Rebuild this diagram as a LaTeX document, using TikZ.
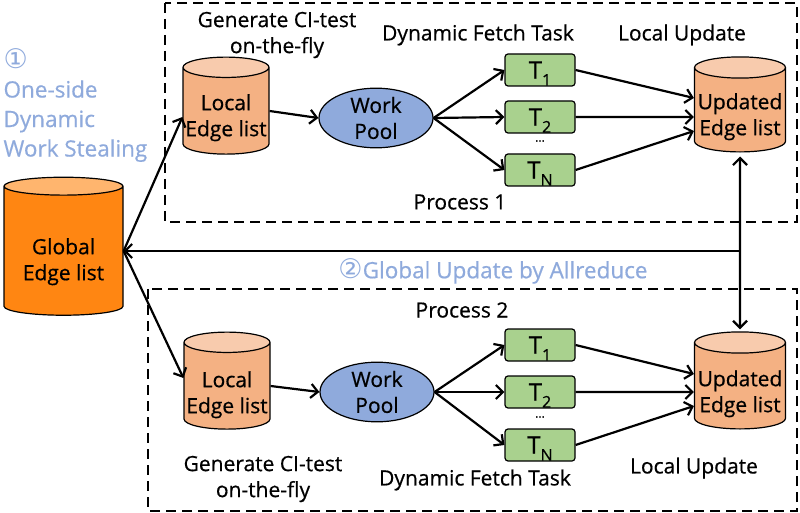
\documentclass[tikz,border=0pt]{standalone}
\usepackage{fontspec}
\setmainfont{Open Sans}[FakeBold=0.6]
\newfontfamily\circfont{DejaVu Sans}
\usepackage{tikz}
\usetikzlibrary{shapes.geometric,arrows.meta}
\usepackage{xcolor}
\definecolor{GlobalOrange}{HTML}{FF8612}
\definecolor{GlobalOrangeTop}{HTML}{FFB56E}
\definecolor{EdgeSalmon}{HTML}{F4B183}
\definecolor{EdgeSalmonTop}{HTML}{F8CBAD}
\definecolor{PoolBlue}{HTML}{8FAADC}
\definecolor{TaskGreen}{HTML}{A9D18E}
\definecolor{NoteBlue}{HTML}{8FAADC}
\newcommand{\storetext}[2]{\raisebox{-#1}[\height][\depth]{\begin{tabular}{@{}c@{}}#2\end{tabular}}}
\newcommand{\tasklabel}[1]{T\raisebox{-7pt}[0pt][0pt]{\fontsize{16}{16}\selectfont #1}}
\newcommand{\stepmark}[1]{{\circfont\fontsize{27}{27}\selectfont #1}}

\begin{document}
\begin{tikzpicture}[x=1pt,y=-1pt,
   every node/.style={font=\fontsize{21}{26}\selectfont},
   store/.style={cylinder,shape border rotate=90,draw,line width=1.2pt,aspect=0.25,
      cylinder uses custom fill,cylinder body fill=EdgeSalmon,cylinder end fill=EdgeSalmonTop,
      inner sep=0pt,minimum width=86pt,minimum height=97pt},
   task/.style={draw,rounded corners=3pt,fill=TaskGreen,line width=1.2pt,
      minimum width=70pt,minimum height=32pt,inner sep=0pt,font=\fontsize{24}{26}\selectfont},
   pool/.style={ellipse,draw,fill=PoolBlue,line width=1.2pt,align=center,
      minimum width=114pt,minimum height=50pt,inner sep=0pt},
   link/.style={-{Straight Barb[length=7pt,width=14pt]},line width=2.2pt},
   proc/.style={line width=2pt,dash pattern=on 10pt off 6pt}]
   \useasboundingbox (0,0) rectangle (800,513);

   \draw[proc] (165,3) rectangle (797,222);
   \draw[proc] (148,289) rectangle (797,511);

   \node[store,cylinder body fill=GlobalOrange,cylinder end fill=GlobalOrangeTop,
      minimum width=119pt,minimum height=138pt,aspect=0.22] (global) at (63.5,251)
      {\storetext{11pt}{Global\\Edge list}};
   \node[anchor=west,align=left,text=NoteBlue,font=\fontsize{22.5}{29.5}\selectfont] (steal) at (0,105)
      {\stepmark{①}\\One-side\\Dynamic\\Work Stealing};

   % process 1
   \node[store] (locala) at (226,111) {\storetext{7pt}{Local\\Edge list}};
   \node[pool] (poola) at (376,118) {Work\\Pool};
   \node[task] (t1a) at (540,70) {\tasklabel{1}};
   \node[task] (t2a) at (540,117) {\tasklabel{2}};
   \node[task] (tna) at (540,170) {\tasklabel{N}};
   \node[font=\fontsize{12}{12}\selectfont] (dotsa) at (540,141) {...};
   \node[store,minimum width=91pt,minimum height=95pt] (upda) at (740,110) {\storetext{7pt}{Updated\\Edge list}};
   \node[align=center] (gena) at (277,35) {Generate CI-test\\on-the-fly};
   \node (fetcha) at (478,35) {Dynamic Fetch Task};
   \node (loca) at (682,35) {Local Update};
   \node (proca) at (460,202) {Process 1};

   % process 2
   \node[store] (localb) at (227,386) {\storetext{9pt}{Local\\Edge list}};
   \node[pool] (poolb) at (377,392) {Work\\Pool};
   \node[task] (t1b) at (540,345) {\tasklabel{1}};
   \node[task] (t2b) at (540,392) {\tasklabel{2}};
   \node[task] (tnb) at (540,445) {\tasklabel{N}};
   \node[font=\fontsize{12}{12}\selectfont] (dotsb) at (540,417) {...};
   \node[store,minimum width=91pt,minimum height=97pt] (updb) at (740,386) {\storetext{8pt}{Updated\\Edge list}};
   \node[align=center] (genb) at (263,479) {Generate CI-test\\on-the-fly};
   \node (fetchb) at (475,480) {Dynamic Fetch Task};
   \node (locb) at (694,468) {Local Update};
   \node (procb) at (462,310) {Process 2};

   \node[text=NoteBlue,font=\fontsize{22.5}{26}\selectfont] (allred) at (493,271)
      {\stepmark{②}Global Update by Allreduce};

   \draw[link] (global.east) -- ([yshift=-6pt]locala.west);
   \draw[link] (global.east) -- ([yshift=8pt]localb.west);

   \draw[link] (locala.east) -- (poola.west);
   \draw[link] (poola.east) -- (t1a.west);
   \draw[link] (poola.east) -- (t2a.west);
   \draw[link] (poola.east) -- (tna.west);
   \draw[link] (t1a.east) -- ([yshift=12pt]upda.west);
   \draw[link] (t2a.east) -- ([yshift=-7pt]upda.west);
   \draw[link] (tna.east) -- ([yshift=-21pt]upda.west);

   \draw[link] (localb.east) -- (poolb.west);
   \draw[link] (poolb.east) -- (t1b.west);
   \draw[link] (poolb.east) -- (t2b.west);
   \draw[link] (poolb.east) -- (tnb.west);
   \draw[link] (t1b.east) -- ([yshift=12pt]updb.west);
   \draw[link] (t2b.east) -- ([yshift=-6pt]updb.west);
   \draw[link] (tnb.east) -- ([yshift=-20pt]updb.west);

   \coordinate (bus) at (upda.south |- global.east);
   \draw[link,{Straight Barb[length=7pt,width=14pt]}-{Straight Barb[length=7pt,width=14pt]}]
      ([yshift=-4pt]upda.south) -- ([yshift=2pt]updb.north);
   \draw[link] (bus) -- (global.east);
\end{tikzpicture}
\end{document}
